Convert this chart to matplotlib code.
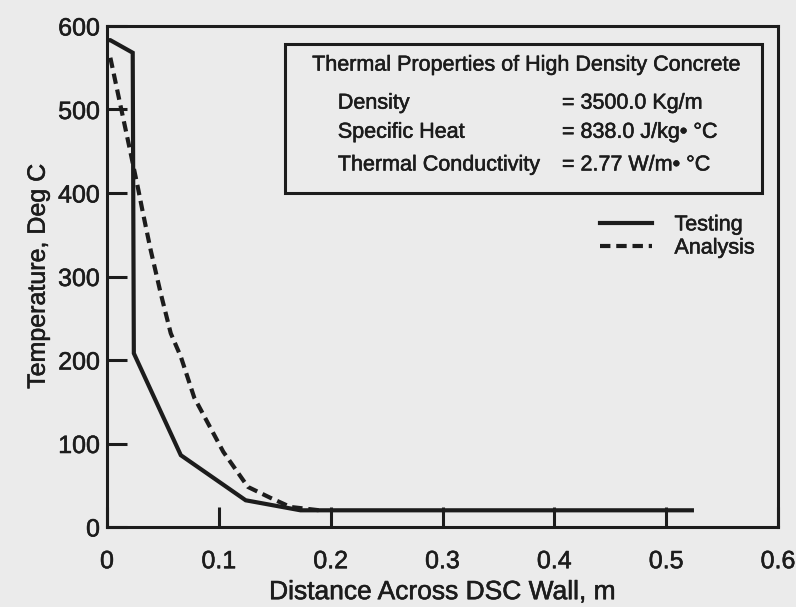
import matplotlib.pyplot as plt
import matplotlib.patheffects as pe
from matplotlib.patches import Rectangle

plt.rcParams["font.family"] = ["Liberation Sans", "DejaVu Sans"]

# Testing (measured) profile
test_x = [0.0, 0.003, 0.023, 0.024, 0.066, 0.124, 0.173, 0.25, 0.35, 0.45, 0.523]
test_t = [583, 583, 568, 208, 86, 32, 20, 20, 20, 20, 20]

# Analysis profile
anal_x = [0.003, 0.0125, 0.02, 0.028, 0.032, 0.039, 0.048, 0.057, 0.066,
          0.078, 0.104, 0.126, 0.146, 0.164, 0.19]
anal_t = [562, 502, 455, 404, 377, 332, 280, 232, 204,
          155, 90, 48, 35, 24, 20]

x_ticks = [0, 0.1, 0.2, 0.3, 0.4, 0.5, 0.6]
x_labels = ["0", "0.1", "0.2", "0.3", "0.4", "0.5", "0.6"]
y_ticks = [0, 100, 200, 300, 400, 500, 600]

props_names = ["Density", "Specific Heat", "Thermal Conductivity"]
props_values = ["= 3500.0 Kg/m", "= 838.0 J/kg\u2022 \u00b0C", "= 2.77 W/m\u2022 \u00b0C"]

bg = "#ebebeb"
ink = "#1c1c1c"
thick = [pe.withStroke(linewidth=0.4, foreground=ink)]

fig = plt.figure(figsize=(7.96, 6.07), dpi=100, facecolor=bg)
ax = fig.add_axes([107 / 796, 1 - 527 / 607, 671 / 796, 501 / 607])
ax.set_facecolor(bg)

ax.plot(test_x, test_t, color=ink, lw=3.0, solid_joinstyle="miter", label="Testing")
ax.plot(anal_x, anal_t, color=ink, lw=3.0, dashes=(2.5, 1.4), label="Analysis")

ax.set_xlim(0, 0.6)
ax.set_ylim(0, 600)
ax.set_xticks(x_ticks)
ax.set_xticklabels(x_labels)
ax.set_yticks(y_ticks)
ax.xaxis.set_tick_params(which="major", direction="in", length=14.5, width=2.2,
                         color=ink, labelsize=18, labelcolor=ink, pad=16)
ax.yaxis.set_tick_params(which="major", direction="in", length=14.5, width=2.2,
                         color=ink, labelsize=18, labelcolor=ink, pad=5,
                         left=True, right=False)
for s in ax.spines.values():
    s.set_linewidth(2.2)
    s.set_color(ink)
for lab in ax.get_xticklabels() + ax.get_yticklabels():
    lab.set_path_effects(thick)

ax.set_xlabel("Distance Across DSC Wall, m", fontsize=19, color=ink, labelpad=5,
              path_effects=thick)
ax.set_ylabel("Temperature, Deg C", fontsize=18, color=ink, labelpad=6,
              path_effects=thick)

# property box
ax.add_patch(Rectangle((0.265, 0.667), 0.711, 0.297, transform=ax.transAxes,
                       fill=False, lw=2.2, edgecolor=ink, zorder=3))
ax.text(0.624, 0.922, "Thermal Properties of High Density Concrete",
        transform=ax.transAxes, ha="center", va="center", fontsize=15.5,
        color=ink, path_effects=thick)
for i, (n, v) in enumerate(zip(props_names, props_values)):
    yy = [0.846, 0.788, 0.7226][i]
    ax.text(0.344, yy, n, transform=ax.transAxes, ha="left", va="center",
            fontsize=15.5, color=ink, path_effects=thick)
    ax.text(0.678, yy, v, transform=ax.transAxes, ha="left", va="center",
            fontsize=15.5, color=ink, path_effects=thick)

leg = ax.legend(loc="upper left", bbox_to_anchor=(0.735, 0.624), frameon=False,
                fontsize=15.5, handlelength=2.4, handletextpad=1.05,
                borderpad=0, borderaxespad=0, labelspacing=0.1)
for t in leg.get_texts():
    t.set_color(ink)
    t.set_path_effects(thick)

fig.savefig("out.png", dpi=100, facecolor=bg)
